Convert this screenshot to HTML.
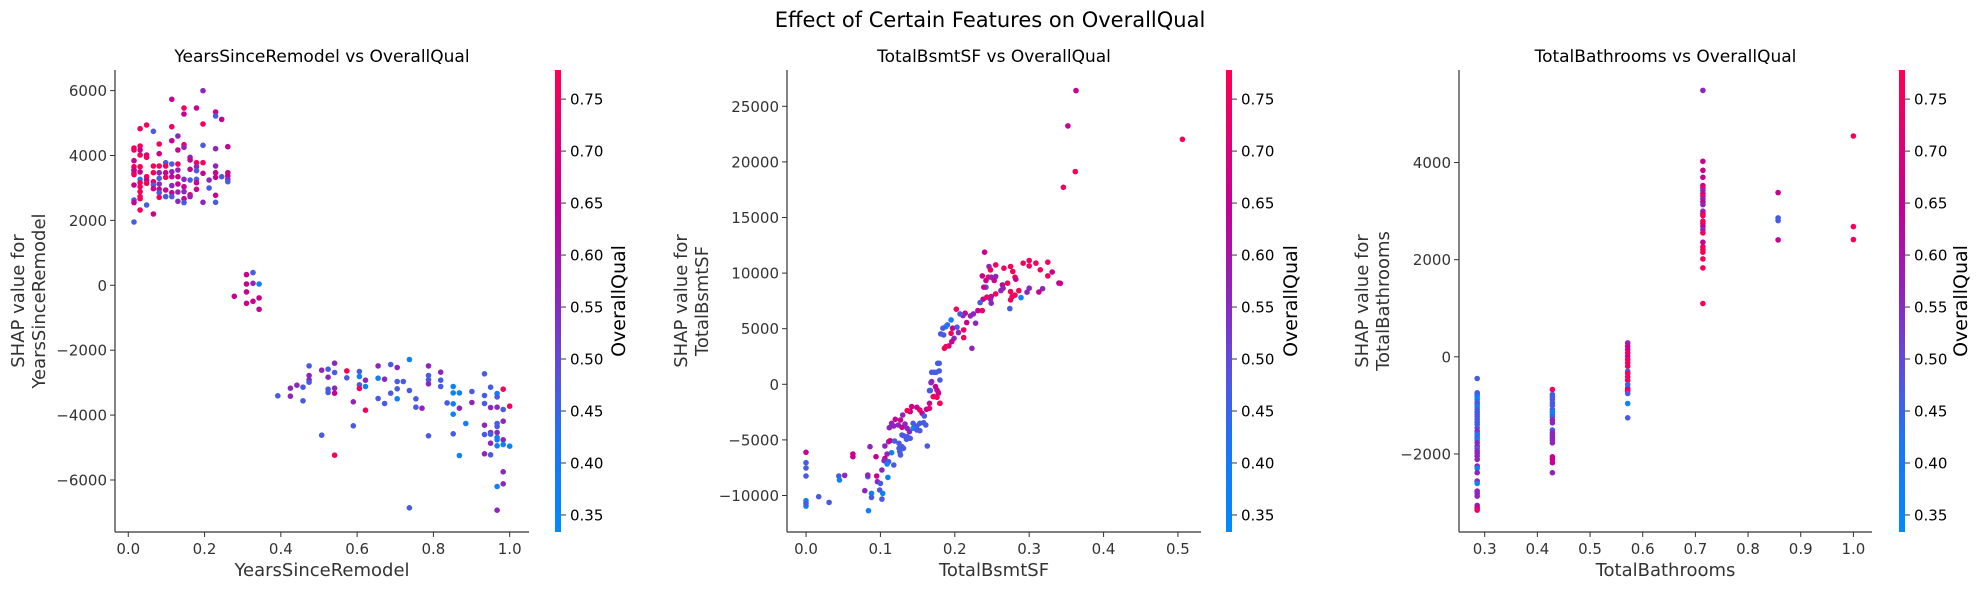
<!DOCTYPE html>
<html><head><meta charset="utf-8">
<style>
html,body{margin:0;padding:0;background:#fff;}
svg{display:block;font-family:"DejaVu Sans","Liberation Sans",sans-serif;}
</style></head>
<body>
<svg id="chart" width="1980" height="590" viewBox="0 0 1980 590" xmlns="http://www.w3.org/2000/svg">
<defs>
<linearGradient id="cmap" x1="0" y1="1" x2="0" y2="0">
<stop offset="0" stop-color="rgb(0,139,250)"/>
<stop offset="0.2" stop-color="rgb(30,115,245)"/>
<stop offset="0.35" stop-color="rgb(90,80,220)"/>
<stop offset="0.5" stop-color="rgb(140,40,190)"/>
<stop offset="0.7" stop-color="rgb(195,0,150)"/>
<stop offset="1" stop-color="rgb(255,0,82)"/>
</linearGradient>
</defs>
<text x="990" y="27" text-anchor="middle" font-size="21" fill="#000">Effect of Certain Features on OverallQual</text>
</svg>
<script>
// ---- Panel 1: YearsSinceRemodel ----
const p1X = [
0.015,0.015,0.015,0.015,0.015,0.015,0.015,0.015,0.015,0.015,0.015,0.015,
0.031,0.031,0.031,0.031,0.031,0.031,0.031,0.031,0.031,0.031,0.031,0.031,0.031,
0.048,0.048,0.048,0.048,0.048,0.048,0.048,
0.066,0.066,0.066,0.066,0.066,0.066,0.066,
0.081,0.081,0.081,0.081,0.081,0.081,0.081,0.081,0.081,
0.098,0.098,0.098,0.098,0.098,0.098,
0.114,0.114,0.114,0.114,0.114,0.114,0.114,0.114,0.114,
0.130,0.130,0.130,0.130,0.130,0.130,0.130,0.130,
0.146,0.146,0.146,0.146,0.146,0.146,0.146,0.146,0.146,
0.162,0.162,0.162,0.162,0.162,0.162,
0.179,0.179,0.179,0.179,0.179,0.179,0.179,
0.196,0.196,0.196,0.196,0.196,0.196,
0.212,0.212,
0.229,0.229,0.229,0.229,0.229,0.229,0.229,0.229,
0.245,0.245,
0.261,0.261,0.261,0.261,0.261,
0.278,0.310,0.310,0.310,0.310,0.327,0.327,0.327,0.343,0.343,0.343,
0.392,0.425,0.425,0.442,0.458,0.458,0.474,0.474,0.474,0.474,0.507,0.507,
0.524,0.524,0.524,0.524,0.541,0.541,0.541,0.541,0.541,0.573,0.573,0.590,0.590,
0.606,0.606,0.606,0.606,0.622,0.622,0.622,0.655,0.655,0.655,0.672,0.672,
0.688,0.688,0.705,0.705,0.705,0.705,0.721,0.737,0.737,0.737,0.754,0.754,0.770,
0.787,0.787,0.787,0.787,0.787,0.819,0.819,0.819,0.836,
0.852,0.852,0.852,0.852,0.852,0.868,0.868,0.868,0.885,0.901,0.901,
0.934,0.934,0.934,0.934,0.934,0.934,0.950,0.950,0.950,0.950,0.950,0.950,
0.967,0.967,0.967,0.967,0.967,0.967,0.967,0.967,0.967,0.967,0.967,
0.983,0.983,0.983,0.983,0.983,0.983,0.983,1.000,1.000];
const p1Y = [
4231,4170,3841,3656,3533,3410,3091,2629,2547,1951,3451,3553,
4827,4293,4170,4016,3656,3492,3266,3040,2886,2732,2670,2321,3163,
4940,4016,3944,3348,3245,3143,2475,
4745,3677,3471,3194,3091,2978,2198,
4354,4057,3677,3471,3297,3122,2958,2855,2711,
3779,3677,3471,3327,2937,2732,
5731,4889,4457,3738,3502,3348,3071,2855,2732,
4601,4170,3738,3553,3348,3122,2876,2588,
5464,5279,4334,4252,3266,3040,2886,2670,2547,
3944,3862,3574,3245,2793,2732,
5464,3779,3656,3533,3266,3163,2958,
5998,4971,4313,3779,3451,2557,
3245,2999,
5340,5217,4211,3677,3471,3327,2773,2557,
5114,3348,
4272,3471,3369,3266,3194,
-339,329,41,-205,-555,390,62,-493,41,-390,-739,
-3407,-3171,-3417,-3078,-3140,-3561,-2483,-2781,-2914,-2986,-2616,-4619,
-2585,-2832,-3202,-3304,-2401,-2688,-3171,-3325,-5235,-2637,-2852,-3592,-4331,
-2657,-2811,-3068,-3181,-2924,-3119,-3849,-2483,-2863,-3489,-2893,-3643,
-2442,-3325,-2534,-2965,-3191,-3499,-2965,-2288,-3243,-6858,-3499,-3756,-3787,
-2483,-2781,-2914,-3037,-4639,-2678,-2924,-3119,-3623,
-3119,-3315,-3653,-3972,-4578,-3315,-3787,-5245,-4259,-3273,-3612,
-2729,-3397,-3643,-4311,-4598,-5194,-3140,-3766,-4537,-4588,-4865,-5225,
-3335,-3438,-3756,-4259,-4352,-4537,-4691,-4763,-4947,-6200,-6930,
-3202,-3828,-4188,-4763,-4906,-5749,-6118,-3725,-4958];
const p1C = [
0.76,0.76,0.66,0.76,0.76,0.76,0.66,0.47,0.66,0.47,0.76,0.66,
0.76,0.76,0.66,0.76,0.76,0.66,0.37,0.76,0.76,0.76,0.76,0.76,0.76,
0.76,0.66,0.76,0.76,0.66,0.76,0.47,
0.47,0.76,0.76,0.76,0.47,0.66,0.66,
0.76,0.66,0.76,0.56,0.47,0.56,0.66,0.47,0.76,
0.47,0.76,0.66,0.76,0.66,0.47,
0.66,0.76,0.66,0.47,0.56,0.66,0.56,0.66,0.47,
0.56,0.66,0.76,0.56,0.66,0.66,0.56,0.56,
0.76,0.66,0.76,0.56,0.56,0.66,0.56,0.66,0.47,
0.56,0.66,0.66,0.47,0.76,0.56,
0.66,0.76,0.56,0.47,0.47,0.66,0.66,
0.56,0.76,0.47,0.76,0.66,0.56,
0.56,0.47,
0.66,0.47,0.56,0.56,0.66,0.66,0.66,0.47,
0.66,0.47,
0.66,0.66,0.66,0.56,0.47,
0.66,0.66,0.66,0.66,0.66,0.47,0.56,0.66,0.37,0.66,0.66,
0.47,0.56,0.56,0.56,0.47,0.47,0.47,0.56,0.56,0.47,0.56,0.47,
0.47,0.56,0.47,0.47,0.56,0.47,0.56,0.66,0.76,0.76,0.47,0.56,0.47,
0.47,0.37,0.47,0.76,0.56,0.37,0.76,0.56,0.37,0.47,0.56,0.47,
0.47,0.47,0.56,0.47,0.47,0.37,0.47,0.37,0.47,0.47,0.47,0.47,0.56,
0.56,0.47,0.47,0.56,0.47,0.56,0.47,0.47,0.47,
0.37,0.37,0.37,0.37,0.47,0.37,0.56,0.37,0.37,0.47,0.56,
0.47,0.47,0.47,0.56,0.47,0.56,0.47,0.56,0.56,0.47,0.56,0.47,
0.37,0.47,0.56,0.47,0.47,0.56,0.37,0.37,0.37,0.37,0.56,
0.76,0.47,0.56,0.56,0.37,0.56,0.56,0.76,0.37];
const p1XTicks = [0.0,0.2,0.4,0.6,0.8,1.0];
const p1XTickLabels = ["0.0","0.2","0.4","0.6","0.8","1.0"];
const p1YTicks = [-6000,-4000,-2000,0,2000,4000,6000];
const p1YTickLabels = ["\u22126000","\u22124000","\u22122000","0","2000","4000","6000"];

// ---- Panel 2: TotalBsmtSF ----
const p2X = [
0.363,0.352,0.506,0.362,0.346,0.342,0.309,0.315,0.331,0.340,0.318,0.313,
0.240,0.246,0.248,0.255,0.266,0.275,0.278,0.292,0.300,0.300,0.325,0.325,
0.237,0.242,0.245,0.249,0.255,0.253,0.242,0.239,0.281,0.282,0.271,0.264,0.265,0.262,
0.275,0.286,0.300,0.297,0.277,0.281,0.275,0.289,0.274,0.255,0.249,0.248,0.243,0.238,
0.234,0.249,0.237,0.231,0.225,0.221,0.228,0.216,0.214,0.211,0.207,0.202,0.212,0.212,
0.195,0.190,0.188,0.184,0.181,0.185,0.197,0.203,0.205,0.195,0.199,0.196,0.192,0.188,
0.186,0.223,0.179,0.177,0.169,0.172,0.175,0.179,0.180,0.169,0.174,0.166,0.176,0.178,
0.172,0.176,0.180,0.166,0.166,0.178,0.167,0.168,0.171,0.180,
0.153,0.162,0.140,0.136,0.142,0.149,0.156,0.159,0.130,0.127,0.120,0.115,0.112,0.118,
0.124,0.129,0.133,0.136,0.139,0.144,0.149,0.153,0.158,0.161,0.144,0.149,0.153,0.131,
0.136,0.140,0.135,0.129,0.163,0.111,0.106,0.113,0.119,0.125,0.129,0.126,0.127,0.131,
0.125,0.115,0.109,0.106,0.105,0.118,0.111,0.109,0.110,0.102,0.095,0.096,0.100,0.099,
0.103,0.102,0.088,0.088,0.079,0.083,0.083,0.086,0.094,0.084,0.063,0.063,0.052,0.044,
0.045,0.031,0.017,0.000,0.000,0.000,0.000,0.000,0.000,0.000];
const p2Y = [
26413,23235,22036,19128,17718,9084,10900,10300,10100,9100,8600,8300,
11880,10590,10290,10740,10440,10590,10140,10890,11130,10650,10980,9750,
9750,9330,9630,9630,9690,9330,8730,8730,9630,9450,9090,8940,8640,8430,
8340,8430,8640,8280,7890,8010,7590,7800,6810,8130,7890,7650,7830,7650,
7350,7290,6630,6630,6330,6150,5490,5550,6390,6180,6330,6750,4890,4200,
5790,5340,5190,5040,4530,4440,5040,5130,4650,4590,4140,3840,3450,3390,
3240,3240,1890,1890,1080,1080,1080,1200,390,240,-210,-570,-510,-810,
-1110,-1170,-1710,-1710,-2160,-750,-570,150,-1110,-1710,
-2310,-2250,-2460,-2370,-2010,-2070,-2610,-2850,-2760,-3210,-3150,-3510,-3900,-3750,
-3660,-3870,-3570,-3960,-4260,-3510,-3750,-3510,-3450,-3660,-3960,-4110,-4170,-4620,
-4710,-4860,-4950,-4560,-5550,-5160,-5550,-5070,-5100,-5310,-5610,-6060,-6360,-5760,
-5760,-6150,-6270,-6660,-6870,-7260,-6960,-7170,-8370,-7710,-8250,-8760,-8910,-9510,
-9810,-10320,-9810,-10170,-9570,-8310,-8160,-5610,-6510,-11370,-6270,-6510,-8190,-8250,
-8610,-10620,-10110,-6120,-7050,-7530,-8250,-10470,-10950,-10710];
const p2C = [
0.66,0.66,0.76,0.76,0.76,0.66,0.76,0.76,0.66,0.66,0.56,0.66,
0.66,0.56,0.76,0.76,0.76,0.76,0.76,0.76,0.76,0.76,0.76,0.76,
0.66,0.66,0.76,0.56,0.56,0.66,0.47,0.66,0.76,0.66,0.76,0.66,0.56,0.56,
0.76,0.76,0.56,0.56,0.76,0.76,0.76,0.37,0.47,0.76,0.66,0.56,0.76,0.66,
0.47,0.56,0.76,0.66,0.56,0.56,0.56,0.66,0.66,0.56,0.47,0.76,0.76,0.76,
0.37,0.47,0.37,0.47,0.47,0.47,0.66,0.47,0.56,0.76,0.56,0.66,0.66,0.76,
0.76,0.56,0.47,0.47,0.47,0.47,0.47,0.47,0.47,0.56,0.66,0.47,0.66,0.76,
0.76,0.76,0.76,0.66,0.76,0.66,0.47,0.56,0.76,0.76,
0.76,0.66,0.66,0.76,0.66,0.66,0.66,0.47,0.56,0.66,0.66,0.56,0.56,0.56,
0.56,0.66,0.56,0.56,0.56,0.47,0.47,0.47,0.47,0.47,0.37,0.47,0.47,0.47,
0.47,0.47,0.47,0.47,0.47,0.56,0.56,0.66,0.47,0.47,0.47,0.47,0.47,0.47,
0.47,0.37,0.56,0.66,0.56,0.47,0.47,0.37,0.37,0.56,0.66,0.56,0.47,0.47,
0.37,0.47,0.37,0.47,0.56,0.47,0.56,0.56,0.66,0.37,0.66,0.66,0.56,0.47,
0.37,0.47,0.47,0.66,0.47,0.47,0.47,0.37,0.37,0.47];
const p2XTicks = [0.0,0.1,0.2,0.3,0.4,0.5];
const p2XTickLabels = ["0.0","0.1","0.2","0.3","0.4","0.5"];
const p2YTicks = [-10000,-5000,0,5000,10000,15000,20000,25000];
const p2YTickLabels = ["\u221210000","\u22125000","0","5000","10000","15000","20000","25000"];

// ---- Panel 3: TotalBathrooms ----
const p3X = [
0.2857,0.2857,0.2857,0.2857,0.2857,0.2857,0.2857,0.2857,0.2857,0.2857,0.2857,0.2857,0.2857,
0.2857,0.2857,0.2857,0.2857,0.2857,0.2857,0.2857,0.2857,0.2857,0.2857,0.2857,0.2857,0.2857,
0.2857,0.2857,0.2857,0.2857,0.2857,0.2857,0.2857,0.2857,0.2857,0.2857,0.2857,0.2857,0.2857,
0.4286,0.4286,0.4286,0.4286,0.4286,0.4286,0.4286,0.4286,0.4286,0.4286,0.4286,
0.4286,0.4286,0.4286,0.4286,0.4286,0.4286,0.4286,0.4286,0.4286,0.4286,0.4286,
0.5714,0.5714,0.5714,0.5714,0.5714,0.5714,0.5714,0.5714,0.5714,0.5714,
0.5714,0.5714,0.5714,0.5714,0.5714,0.5714,0.5714,0.5714,0.5714,
0.7143,0.7143,0.7143,0.7143,0.7143,0.7143,0.7143,0.7143,0.7143,0.7143,0.7143,0.7143,0.7143,
0.7143,0.7143,0.7143,0.7143,0.7143,0.7143,0.7143,0.7143,0.7143,0.7143,0.7143,0.7143,0.7143,0.7143,
0.8571,0.8571,0.8571,0.8571,1.0,1.0,1.0];
const p3Y = [
-447,-741,-776,-824,-879,-934,-982,-1030,-1084,-1139,-1187,-1235,-1290,
-1345,-1393,-1462,-1530,-1578,-1619,-1667,-1715,-1770,-1838,-1886,-1941,-1989,
-2044,-2113,-2250,-2298,-2387,-2559,-2607,-2765,-2813,-2868,-3060,-3108,-3156,
-673,-776,-824,-879,-947,-1002,-1084,-1139,-1187,-1235,-1304,
-1358,-1509,-1564,-1619,-1667,-1715,-1770,-2058,-2113,-2181,-2387,
287,219,150,81,13,-56,-124,-193,-296,-344,
-412,-481,-570,-639,-673,-707,-755,-961,-1256,
5485,4026,3840,3696,3525,3477,3429,3360,3306,3251,3189,3134,2997,
2949,2908,2791,2743,2688,2620,2551,2359,2263,2208,2153,2016,1831,1097,
3381,2860,2805,2407,4547,2681,2414];
const p3C = [
0.47,0.47,0.47,0.37,0.37,0.47,0.47,0.37,0.47,0.47,0.47,0.47,0.47,
0.47,0.47,0.47,0.56,0.47,0.37,0.47,0.37,0.56,0.56,0.47,0.56,0.56,
0.56,0.56,0.56,0.37,0.56,0.56,0.37,0.56,0.56,0.56,0.56,0.66,0.76,
0.76,0.47,0.47,0.47,0.47,0.47,0.47,0.37,0.37,0.47,0.56,
0.56,0.47,0.56,0.56,0.56,0.56,0.56,0.66,0.66,0.66,0.56,
0.56,0.66,0.66,0.76,0.66,0.76,0.76,0.76,0.47,0.76,
0.76,0.76,0.47,0.47,0.66,0.76,0.47,0.37,0.47,
0.56,0.66,0.66,0.66,0.66,0.76,0.56,0.66,0.76,0.56,0.66,0.56,0.56,
0.66,0.76,0.76,0.76,0.66,0.56,0.76,0.66,0.76,0.76,0.76,0.76,0.76,0.76,
0.66,0.47,0.47,0.66,0.76,0.76,0.76];
const p3XTicks = [0.3,0.4,0.5,0.6,0.7,0.8,0.9,1.0];
const p3XTickLabels = ["0.3","0.4","0.5","0.6","0.7","0.8","0.9","1.0"];
const p3YTicks = [-2000,0,2000,4000];
const p3YTickLabels = ["\u22122000","0","2000","4000"];

const cbTicks = [0.35,0.40,0.45,0.50,0.55,0.60,0.65,0.70,0.75];
const cbTickLabels = ["0.35","0.40","0.45","0.50","0.55","0.60","0.65","0.70","0.75"];

const NS = "http://www.w3.org/2000/svg";
const svg = document.getElementById("chart");
function mk(tag, attrs, parent) {
  const e = document.createElementNS(NS, tag);
  for (const k in attrs) e.setAttribute(k, attrs[k]);
  (parent || svg).appendChild(e);
  return e;
}
const CMIN = 0.3336, CMAX = 0.778;
const stops = [[0,[0,139,250]],[0.2,[30,115,245]],[0.35,[90,80,220]],[0.5,[140,40,190]],[0.7,[195,0,150]],[1,[255,0,82]]];
function cmap(v) {
  let t = (v - CMIN) / (CMAX - CMIN);
  t = Math.max(0, Math.min(1, t));
  for (let i = 1; i < stops.length; i++) {
    if (t <= stops[i][0]) {
      const a = stops[i-1], b = stops[i];
      const f = (t - a[0]) / (b[0] - a[0]);
      const c = a[1].map((x, j) => Math.round(x + (b[1][j] - x) * f));
      return "rgb(" + c.join(",") + ")";
    }
  }
  return "rgb(255,0,82)";
}

const TOP = 70, BOT = 532;
const panels = [
  {key:"years-since-remodel", title:"YearsSinceRemodel vs OverallQual", xlabel:"YearsSinceRemodel",
   ylab1:"SHAP value for", ylab2:"YearsSinceRemodel", L:115, R:529, xmin:-0.0348, xmax:1.0506, ymin:-7603, ymax:6635,
   X:p1X, Y:p1Y, C:p1C, xt:p1XTicks, xtl:p1XTickLabels, yt:p1YTicks, ytl:p1YTickLabels,
   yl1x:18, yl2x:38, cbL:555, cbLabelX:618},
  {key:"total-bsmt-sf", title:"TotalBsmtSF vs OverallQual", xlabel:"TotalBsmtSF",
   ylab1:"SHAP value for", ylab2:"TotalBsmtSF", L:787, R:1201, xmin:-0.0256, xmax:0.531, ymin:-13283, ymax:28264,
   X:p2X, Y:p2Y, C:p2C, xt:p2XTicks, xtl:p2XTickLabels, yt:p2YTicks, ytl:p2YTickLabels,
   yl1x:681, yl2x:701, cbL:1226, cbLabelX:1290},
  {key:"total-bathrooms", title:"TotalBathrooms vs OverallQual", xlabel:"TotalBathrooms",
   ylab1:"SHAP value for", ylab2:"TotalBathrooms", L:1459, R:1872, xmin:0.2512, xmax:1.0353, ymin:-3607, ymax:5905,
   X:p3X, Y:p3Y, C:p3C, xt:p3XTicks, xtl:p3XTickLabels, yt:p3YTicks, ytl:p3YTickLabels,
   yl1x:1362, yl2x:1382, cbL:1899, cbLabelX:1960}
];

panels.forEach(p => {
  const g = mk("g", {});
  
  
  const sx = v => p.L + (v - p.xmin) / (p.xmax - p.xmin) * (p.R - p.L);
  const sy = v => BOT - (v - p.ymin) / (p.ymax - p.ymin) * (BOT - TOP);
  const t = mk("text", {x:(p.L+p.R)/2, y:62, "text-anchor":"middle", "font-size":17, fill:"#000"}, g);
  t.textContent = p.title;
  
  
  const pts = mk("g", {}, g);
  
  
  for (let i = 0; i < p.X.length; i++) {
    const c = mk("circle", {cx:sx(p.X[i]).toFixed(1), cy:sy(p.Y[i]).toFixed(1), r:2.8, fill:cmap(p.C[i])}, pts);
    
    
  }
  const ya = mk("line", {x1:p.L, y1:TOP, x2:p.L, y2:BOT, stroke:"#333", "stroke-width":1.2}, g);
  
  
  const xa = mk("line", {x1:p.L, y1:BOT, x2:p.R, y2:BOT, stroke:"#333", "stroke-width":1.2}, g);
  
  
  p.xt.forEach((v, i) => {
    const x = sx(v);
    mk("line", {x1:x, y1:BOT, x2:x, y2:BOT+5, stroke:"#333", "stroke-width":1}, g);
    const tl = mk("text", {x:x, y:BOT+22, "text-anchor":"middle", "font-size":15, fill:"#333"}, g);
    tl.textContent = p.xtl[i];
    
    
  });
  p.yt.forEach((v, i) => {
    const y = sy(v);
    mk("line", {x1:p.L-5, y1:y, x2:p.L, y2:y, stroke:"#333", "stroke-width":1}, g);
    const tl = mk("text", {x:p.L-8, y:y+5.5, "text-anchor":"end", "font-size":15, fill:"#333"}, g);
    tl.textContent = p.ytl[i];
    
    
  });
  const xl = mk("text", {x:(p.L+p.R)/2, y:576, "text-anchor":"middle", "font-size":18, fill:"#333"}, g);
  xl.textContent = p.xlabel;
  
  
  const cy = (TOP+BOT)/2;
  const yl = mk("text", {transform:"translate("+(p.yl1x+6)+","+cy+") rotate(-90)", "text-anchor":"middle", "font-size":18, fill:"#333"}, g);
  yl.textContent = p.ylab1;
  
  
  const yl2 = mk("text", {transform:"translate("+(p.yl2x+7)+","+cy+") rotate(-90)", "text-anchor":"middle", "font-size":18, fill:"#333"}, g);
  yl2.textContent = p.ylab2;
  
  
  const cb = mk("rect", {x:p.cbL, y:TOP, width:6, height:BOT-TOP, fill:"url(#cmap)"}, g);
  
  
  const cbY = v => BOT - (v - CMIN) / (CMAX - CMIN) * (BOT - TOP);
  cbTicks.forEach((v, i) => {
    const y = cbY(v);
    mk("line", {x1:p.cbL+6, y1:y, x2:p.cbL+11, y2:y, stroke:"#333", "stroke-width":1}, g);
    const tl = mk("text", {x:p.cbL+15, y:y+5.5, "font-size":15, fill:"#000"}, g);
    tl.textContent = cbTickLabels[i];
    
    
  });
  const cl = mk("text", {transform:"translate("+(p.cbLabelX+7)+","+cy+") rotate(-90)", "text-anchor":"middle", "font-size":19, fill:"#000"}, g);
  cl.textContent = "OverallQual";
  
  
});
</script>
</body></html>
